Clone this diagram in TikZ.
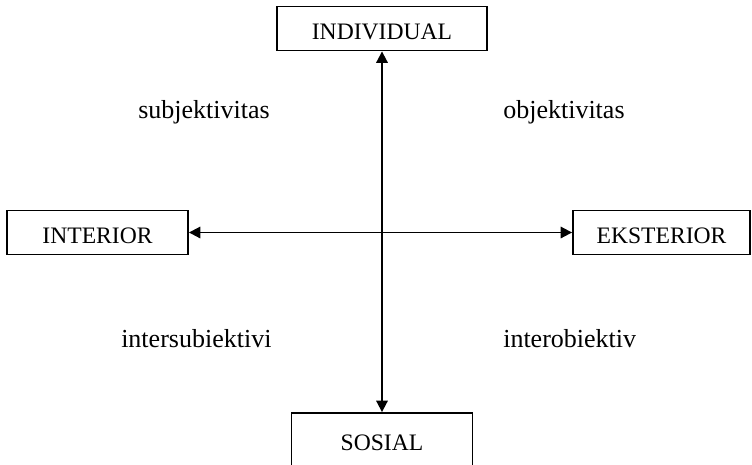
\documentclass[tikz,border=0pt]{standalone}
\usepackage{fontspec}
\setmainfont{Liberation Serif}
\usetikzlibrary{arrows.meta}

\begin{document}
\begin{tikzpicture}[x=0.75pt,y=0.75pt,yscale=-1,xscale=1,
  box/.style={draw,line width=1.4pt,minimum height=33pt,inner sep=0pt,text height=17pt,text depth=0pt,font=\fontsize{17.7}{21}\selectfont},
  lbl/.style={anchor=base west,inner sep=0pt,font=\fontsize{19.5}{23}\selectfont},
  link/.style={line width=1.4pt,{Triangle[length=8.5pt,width=8.5pt]}-{Triangle[length=8.5pt,width=8.5pt]}}]
\useasboundingbox (0,0) rectangle (752,464);
\clip (0,0) rectangle (752,464);

%Boxes
\node [box,minimum width=157.5pt] (individual) at (382,28.5) {INDIVIDUAL};
\node [box,minimum width=135.75pt] (interior) at (97.5,232.5) {INTERIOR};
\node [box,minimum width=132.75pt] (eksterior) at (661.5,232.5) {EKSTERIOR};
\node [box,minimum width=135.75pt,minimum height=39.75pt] (sosial) at (382,439.5) {SOSIAL};

%Axes
\draw [link] (individual.south) -- (sosial.north);
\draw [link] (interior.east) -- (eksterior.west);

% Text Node
\node [lbl] (subj) at (138,118) {subjektivitas};
% Text Node
\node [lbl] (obj) at (503,118) {objektivitas};
% Text Node
\node [lbl] (intersubj) at (121,347) {intersubiektivi};
% Text Node
\node [lbl] (interobj) at (503,347) {interobiektiv};

\end{tikzpicture}
\end{document}
